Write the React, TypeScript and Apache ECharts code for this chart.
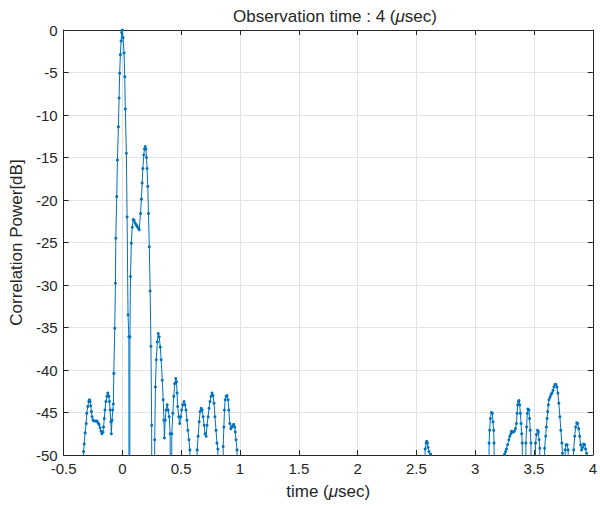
import React, { useEffect, useRef } from "react";
import * as echarts from "echarts";

// Sample times (µsec) and correlation power (dB). -100 marks samples far below the -50 dB floor.
const time = [
  -0.34, -0.33, -0.325, -0.317, -0.308, -0.303, -0.294, -0.286, -0.28, -0.275, -0.269, -0.263, -0.258, -0.25,
  -0.239, -0.227, -0.216, -0.208, -0.199, -0.19, -0.182, -0.174, -0.165, -0.16, -0.154, -0.148, -0.14, -0.132,
  -0.124, -0.115, -0.11, -0.104, -0.098, -0.094, -0.088, -0.082, -0.077, -0.073,
  -0.065, -0.059, -0.056, -0.048, -0.042, -0.034, -0.028, -0.023, -0.017, -0.011, -0.006, 0.0, 0.006, 0.014,
  0.02, 0.025, 0.034, 0.04, 0.048, 0.055, 0.06, 0.064, 0.069, 0.076, 0.084, 0.092, 0.1, 0.108, 0.117, 0.125,
  0.134, 0.143, 0.154, 0.162, 0.168, 0.174, 0.182, 0.188, 0.194, 0.2, 0.205, 0.21, 0.216, 0.222, 0.229, 0.236,
  0.243, 0.249, 0.256,
  0.268, 0.275, 0.281, 0.288, 0.297, 0.305, 0.313, 0.322, 0.33, 0.339, 0.347, 0.353, 0.357, 0.364, 0.372,
  0.381, 0.389, 0.398, 0.406, 0.412,
  0.42, 0.429, 0.437, 0.445, 0.454, 0.46, 0.465, 0.47, 0.479, 0.487, 0.496, 0.504, 0.513, 0.524, 0.532, 0.541,
  0.549, 0.557, 0.566, 0.574, 0.586,
  0.628, 0.636, 0.644, 0.653, 0.661, 0.67, 0.678, 0.687, 0.695, 0.703, 0.712, 0.72, 0.729, 0.737, 0.745, 0.754,
  0.762, 0.77, 0.779, 0.787, 0.796, 0.804, 0.812, 0.82,
  0.85, 0.857, 0.863, 0.868, 0.874, 0.882, 0.89, 0.899, 0.905, 0.913, 0.922, 0.93, 0.939, 0.947, 0.955, 0.96,
  0.966, 0.975, 0.982,
  2.565, 2.574, 2.583, 2.588, 2.594, 2.599, 2.607, 2.62, 2.63,
  3.11, 3.118, 3.123, 3.129, 3.137, 3.146, 3.151, 3.157, 3.16, 3.165,
  3.245, 3.25, 3.258, 3.266, 3.275, 3.286, 3.294, 3.303, 3.308, 3.317, 3.325, 3.333, 3.342, 3.35, 3.356, 3.361,
  3.367, 3.372, 3.378, 3.384, 3.39, 3.395, 3.4, 3.405,
  3.425, 3.431, 3.437, 3.443, 3.448, 3.457, 3.462, 3.468, 3.474, 3.48,
  3.505, 3.513, 3.521, 3.53, 3.538, 3.543, 3.549, 3.555,
  3.585, 3.59, 3.599, 3.605, 3.611, 3.616, 3.622, 3.627, 3.636, 3.644, 3.653, 3.661, 3.669, 3.678, 3.686, 3.695,
  3.703, 3.711, 3.72, 3.728, 3.737, 3.742, 3.748,
  3.76, 3.765, 3.773, 3.782, 3.79, 3.796,
  3.83, 3.837, 3.846, 3.854, 3.863, 3.871, 3.88, 3.888, 3.896, 3.905, 3.913, 3.922, 3.93, 3.938, 3.947, 3.955,
];

const powerDb = [
  -100, -49.6, -48.7, -47.4, -46.3, -45.1, -44.3, -43.7, -43.5, -43.7, -44.2, -44.9, -45.5, -45.9,
  -46.0, -46.0, -46.0, -46.2, -46.4, -46.8, -47.2, -47.5, -47.3, -46.7, -45.7, -44.7, -43.7, -43.1,
  -42.7, -43.1, -43.7, -44.7, -46.1, -47.5, -45.9, -44.7, -44.0, -40.4,
  -35.1, -29.8, -24.5, -19.6, -15.3, -11.4, -8.0, -5.1, -2.9, -1.3, -0.3, 0.0, -0.9, -2.7,
  -5.5, -9.3, -14.5, -22.0, -33.5, -36.1, -100, -36.1, -29.0, -25.1, -23.2, -22.3, -22.4, -22.7, -22.9, -23.1,
  -23.3, -23.5, -21.6, -19.9, -18.0, -16.3, -14.7, -14.0, -13.7, -14.0, -15.0, -16.3, -18.4, -21.6, -25.5, -30.7,
  -37.2, -46.5, -100,
  -100, -48.2, -42.0, -38.8, -36.7, -35.7, -36.1, -37.3, -38.8, -41.2, -43.5, -45.9, -48.0, -45.9, -44.7,
  -44.1, -44.7, -45.5, -47.5, -100,
  -47.5, -45.1, -43.1, -41.6, -41.0, -41.4, -42.7, -44.3, -45.5, -46.3, -45.5, -44.7, -44.1, -43.7, -44.1, -44.7,
  -45.9, -47.1, -48.2, -49.4, -100,
  -100, -49.4, -47.8, -46.1, -44.9, -44.5, -44.7, -45.5, -46.5, -47.5, -47.8, -46.5, -45.5, -44.5, -43.7, -43.1,
  -42.7, -43.0, -43.9, -45.5, -47.1, -48.6, -49.3, -100,
  -100, -49.0, -46.7, -44.7, -43.5, -43.1, -43.0, -43.5, -44.7, -46.3, -46.9, -46.7, -46.5, -46.4, -46.7, -47.3,
  -48.2, -49.4, -100,
  -100, -49.3, -48.6, -48.4, -48.6, -49.1, -49.6, -49.9, -100,
  -100, -48.6, -47.1, -45.7, -45.0, -45.1, -46.1, -47.1, -48.6, -100,
  -100, -49.9, -49.6, -49.3, -48.8, -48.2, -47.8, -47.5, -47.2, -47.3, -47.3, -47.2, -46.9, -46.3, -45.1, -44.1,
  -43.7, -43.6, -44.1, -45.1, -46.3, -47.5, -48.6, -100,
  -100, -48.6, -46.7, -45.1, -44.6, -44.7, -45.7, -47.1, -48.6, -100,
  -100, -48.6, -47.6, -47.1, -47.3, -48.2, -49.2, -100,
  -100, -49.2, -47.8, -46.7, -45.7, -44.9, -44.1, -43.5, -43.2, -42.9, -42.7, -42.4, -42.0, -41.7, -41.7, -42.0,
  -42.7, -43.9, -45.5, -47.1, -48.6, -49.8, -100,
  -100, -49.4, -48.8, -48.8, -49.4, -100,
  -100, -49.4, -47.8, -46.7, -46.2, -46.3, -46.9, -47.8, -48.8, -49.4, -49.1, -48.7, -48.8, -49.3, -49.8, -100,
];

const titleText = "Observation time : 4 ({i|μ}sec)";
const xName = "time ({i|μ}sec)";
const yName = "Correlation Power[dB]";

const FONT = "'Liberation Sans', Arial, Helvetica, sans-serif";
const TXT = "#262626";

export default function App() {
  const ref = useRef<HTMLDivElement>(null);
  useEffect(() => {
    if (!ref.current) return;
    const chart = echarts.init(ref.current, null, { renderer: "svg" });
    const data = time.map((t, i) => [t, powerDb[i]]);
    const axisLine = { show: true, onZero: false, lineStyle: { color: TXT, width: 1 } };
    const splitLine = { show: true, lineStyle: { color: "#e3e3e3", width: 1 } };
    const tick = { show: true, inside: true, length: 5, lineStyle: { color: TXT } };
    const rich = { i: { fontStyle: "italic", fontFamily: FONT, fontSize: 17, color: TXT } };
    chart.setOption({
      animation: false,
      backgroundColor: "#ffffff",
      textStyle: { fontFamily: FONT },
      title: {
        text: titleText,
        left: 330,
        textAlign: "center",
        top: 3,
        textStyle: {
          fontFamily: FONT,
          fontSize: 17,
          fontWeight: "normal",
          color: TXT,
          rich,
        },
      },
      grid: { left: 62, right: 2, top: 30, bottom: 54, containLabel: false },
      xAxis: [
        {
          type: "value",
          min: -0.5,
          max: 4,
          interval: 0.5,
          position: "bottom",
          axisLine,
          axisTick: tick,
          axisLabel: { color: TXT, fontSize: 15, fontFamily: FONT, margin: 6 },
          splitLine,
          name: xName,
          nameLocation: "middle",
          nameGap: 28,
          nameTextStyle: { color: TXT, fontSize: 17, fontFamily: FONT, rich },
        },
        {
          type: "value",
          min: -0.5,
          max: 4,
          interval: 0.5,
          position: "top",
          axisLine,
          axisTick: tick,
          axisLabel: { show: false },
          splitLine: { show: false },
        },
      ],
      yAxis: [
        {
          type: "value",
          min: -50,
          max: 0,
          interval: 5,
          position: "left",
          axisLine,
          axisTick: tick,
          axisLabel: { color: TXT, fontSize: 15, fontFamily: FONT, margin: 6 },
          splitLine,
          name: yName,
          nameLocation: "middle",
          nameGap: 38,
          nameTextStyle: { color: TXT, fontSize: 17, fontFamily: FONT },
        },
        {
          type: "value",
          min: -50,
          max: 0,
          interval: 5,
          position: "right",
          axisLine,
          axisTick: tick,
          axisLabel: { show: false },
          splitLine: { show: false },
        },
      ],
      series: [
        {
          type: "line",
          xAxisIndex: 0,
          yAxisIndex: 0,
          data,
          clip: true,
          symbol: "circle",
          symbolSize: 3,
          showSymbol: true,
          showAllSymbol: true,
          lineStyle: { color: "#0072BD", width: 1 },
          itemStyle: { color: "#0072BD" },
        },
      ],
    });
    return () => chart.dispose();
  }, []);
  return (
    <div
      ref={ref}
      style={{ position: "fixed", left: 0, top: 0, width: 600, height: 509, background: "#fff" }}
    />
  );
}
